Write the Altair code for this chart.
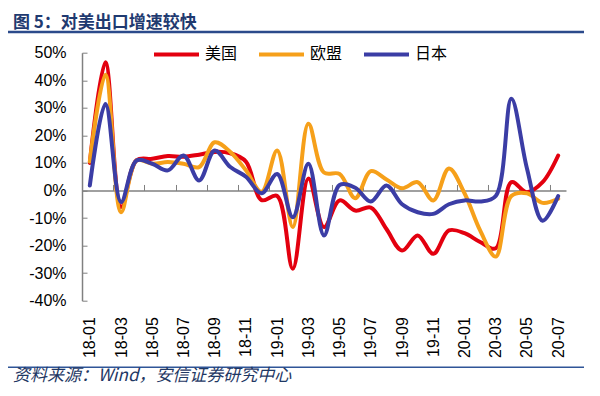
import altair as alt
import pandas as pd

months = ["18-01", "18-02", "18-03", "18-04", "18-05", "18-06", "18-07", "18-08", "18-09", "18-10",
          "18-11", "18-12", "19-01", "19-02", "19-03", "19-04", "19-05", "19-06", "19-07", "19-08",
          "19-09", "19-10", "19-11", "19-12", "20-01", "20-02", "20-03", "20-04", "20-05", "20-06",
          "20-07"]
us = [10.0, 46.5, -6.0, 11.0, 11.5, 12.5, 12.2, 13.0, 14.0, 13.5, 10.5, -3.5, -2.0, -28.4, 4.3,
      -13.3, -3.6, -7.3, -6.2, -14.0, -21.8, -16.3, -23.0, -14.5, -15.5, -18.7, -21.0, 3.0, -0.6,
      3.0, 12.7]
eu = [10.5, 42.0, -7.9, 10.9, 9.7, 10.3, 9.7, 8.5, 17.5, 14.0, 7.3, -0.5, 14.5, -13.3, 24.2,
      6.5, 6.0, -2.8, 7.0, 4.0, 0.8, 3.0, -3.6, 8.0, -1.0, -14.5, -24.0, -2.0, -1.0, -4.5, -3.0]
jp = [1.8, 31.4, -4.2, 10.9, 9.7, 7.3, 12.7, 3.6, 14.5, 8.5, 5.0, -1.0, 6.0, -9.7, 9.7, -16.3,
      2.0, 1.0, -4.0, 1.8, -5.0, -7.9, -8.5, -5.0, -3.6, -4.0, -2.0, 33.3, 8.0, -11.0, -2.0]
series_names = ["美国", "欧盟", "日本"]
series_colors = ["#E3000F", "#F6A01A", "#3B3DA5"]
y_ticks = [-40, -30, -20, -10, 0, 10, 20, 30, 40, 50]

title_text = "图 5：对美出口增速较快"
source_text = "资料来源：Wind，安信证券研究中心"

rows = []
for name, vals in zip(series_names, [us, eu, jp]):
    for i, (m, v) in enumerate(zip(months, vals)):
        rows.append({"idx": i, "month": m, "series": name, "value": v})
df = pd.DataFrame(rows)

W = 484
H = 248
YMIN, YMAX = -40, 50
zero_off = H * YMAX / (YMAX - YMIN)

label_expr = "[" + ",".join("'" + m + "'" for m in months) + "][datum.value]"
xscale = alt.Scale(domain=[-0.5, len(months) - 0.5], nice=False, zero=False)
yscale = alt.Scale(domain=[YMIN, YMAX], nice=False, zero=False)
num_font = "Liberation Sans"
cjk_font = "Noto Sans CJK SC"

lines = alt.Chart(df).mark_line(interpolate="catmull-rom", strokeWidth=4, strokeCap="round").encode(
    x=alt.X("idx:Q", scale=xscale,
            axis=alt.Axis(orient="bottom", values=list(range(0, len(months), 2)), labelExpr=label_expr,
                          labelAngle=270, domain=False, ticks=False, tickSize=0, grid=False,
                          labelFont=num_font, labelFontSize=16, labelColor="black",
                          labelPadding=16, title=None, labelOverlap=False)),
    y=alt.Y("value:Q", scale=yscale,
            axis=alt.Axis(orient="left", values=y_ticks, labelExpr="datum.value + '%'",
                          domain=True, domainColor="#808080", domainWidth=1.5, ticks=False, tickSize=0,
                          grid=False, labelFont=num_font, labelFontSize=16, labelColor="black",
                          labelPadding=16, title=None)),
    color=alt.Color("series:N", scale=alt.Scale(domain=series_names, range=series_colors),
                    legend=alt.Legend(orient="none", legendX=70, legendY=-23, direction="horizontal",
                                      title=None, symbolType="stroke", symbolSize=2025,
                                      symbolStrokeWidth=4, labelFontSize=16, labelFont=cjk_font,
                                      labelColor="black", labelOffset=4, columnPadding=13, padding=0)),
    order=alt.Order("idx:Q"),
)

tick_layer = alt.Chart(df).mark_point(opacity=0).encode(
    x=alt.X("idx:Q", scale=xscale,
            axis=alt.Axis(orient="top", offset=-zero_off, values=[i - 0.5 for i in range(2, len(months), 2)],
                          labels=False, ticks=True, tickSize=6, tickColor="#808080",
                          domain=True, domainColor="#808080", domainWidth=1.5, grid=False, title=None)),
    y=alt.Y("value:Q", scale=yscale,
            axis=alt.Axis(orient="right", offset=-W, values=y_ticks, labels=False, ticks=True,
                          tickSize=5, tickColor="#808080", domain=False, grid=False, title=None)),
)

one = pd.DataFrame({"a": [0]})
title_mark = alt.Chart(one).mark_text(align="left", baseline="alphabetic", font=cjk_font, fontSize=17,
                                      fontWeight="bold", color="#1F3A70").encode(
    x=alt.value(-69), y=alt.value(-24.3), text=alt.value(title_text))
title_rule = alt.Chart(one).mark_rule(color="#2B4A8B", strokeWidth=2.5).encode(
    x=alt.value(-74), x2=alt.value(506), y=alt.value(-20.8))
bottom_rule = alt.Chart(one).mark_rule(color="#2F5597", strokeWidth=1.5).encode(
    x=alt.value(-74), x2=alt.value(506), y=alt.value(314.5))
source_mark = alt.Chart(one).mark_text(align="left", baseline="alphabetic", font=cjk_font, fontSize=17,
                                       fontStyle="italic", color="#1F3864").encode(
    x=alt.value(-69), y=alt.value(328.5), text=alt.value(source_text))

chart = alt.layer(tick_layer, lines, title_mark, title_rule, bottom_rule, source_mark).resolve_axis(
    x="independent", y="independent"
).properties(
    width=W, height=H,
    autosize=alt.AutoSizeParams(type="none"),
    padding={"left": 74, "top": 44.7, "right": 18, "bottom": 87},
    background="white",
).configure_view(stroke=None)

chart.save("out.html", embed_options={"renderer": "svg", "actions": False})
